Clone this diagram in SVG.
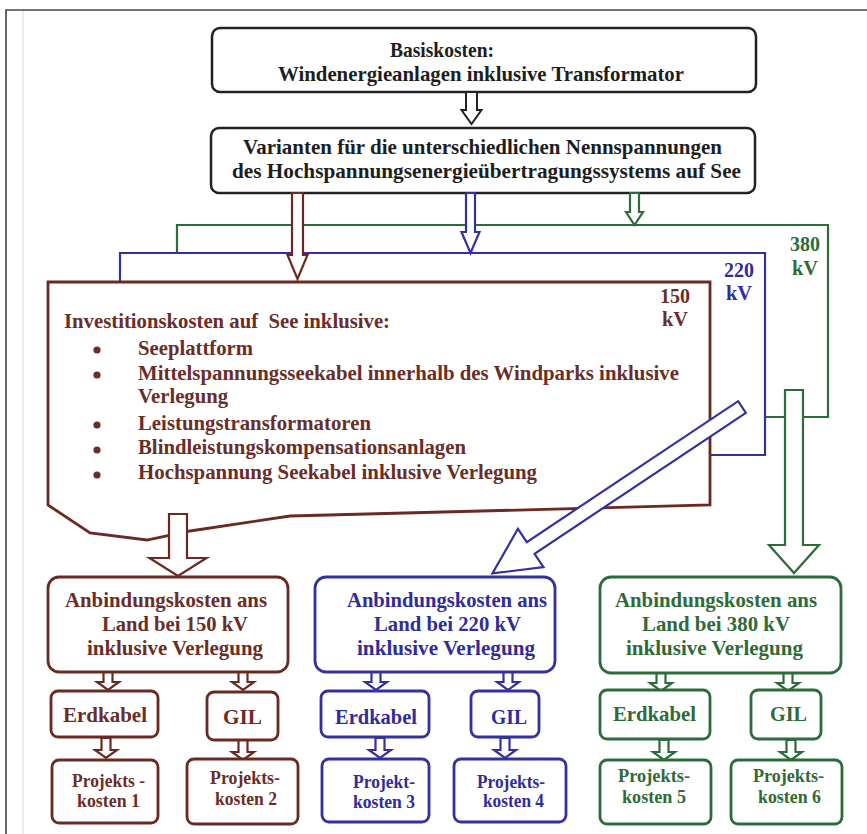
<svg xmlns="http://www.w3.org/2000/svg" xmlns:xlink="http://www.w3.org/1999/xlink" width="867" height="834" viewBox="0 0 867 834">
<style>
text{font-family:"Liberation Serif","Times New Roman",serif;font-weight:bold;}
.k{fill:#1e1e1e;font-size:21.5px;}
.br{fill:#6b2d27;font-size:21.5px;}
.bl{fill:#302c9c;font-size:21.5px;}
.gr{fill:#2f6b38;font-size:21.5px;}
.sm{font-size:18.5px;}
.bk{fill:#fff;stroke:#222;stroke-width:2.5;}
.bb{fill:#fff;stroke:#6a2a22;stroke-width:2.8;}
.bu{fill:#fff;stroke:#3430a0;stroke-width:2.8;}
.bg{fill:#fff;stroke:#2c6b3a;stroke-width:2.8;}
.ln{fill:none;stroke-width:2.2;}
.ab{fill:#fff;stroke:#222;stroke-width:2;}
.arb{fill:#fff;stroke:#6a2a22;stroke-width:2.2;}
.aru{fill:#fff;stroke:#3430a0;stroke-width:2.2;}
.arg{fill:#fff;stroke:#2c6b3a;stroke-width:2.2;}
</style>
<defs>
<path id="sa1" d="M-4.5,0 V10 H-11 L0,18 L11,10 H4.5 V0 Z"/>
<path id="sa2" d="M-4.5,0 V12 H-11 L0,20 L11,12 H4.5 V0 Z"/>
</defs>
<rect width="867" height="834" fill="#fff"/>
<g id="frame">
<line x1="23" y1="10" x2="23" y2="834" stroke="#e4e4e4" stroke-width="1.5"/>
<path d="M6,834 V10 H867" fill="none" stroke="#444" stroke-width="1.6"/>
</g>

<g id="connectors">
<polyline class="ln" stroke="#2c6b3a" points="177,253 177,225 828,225 828,417 765,417"/>
<polyline class="ln" stroke="#3430a0" points="120,281 120,253 765,253 765,455 710,455"/>
</g>

<g id="basis">
<rect class="bk" x="212" y="28" width="544" height="64" rx="8"/>
<text class="k" x="390" y="57" textLength="104" lengthAdjust="spacingAndGlyphs">Basiskosten:</text>
<text class="k" x="278" y="81" textLength="406" lengthAdjust="spacingAndGlyphs">Windenergieanlagen inklusive Transformator</text>
</g>
<g id="varianten">
<rect class="bk" x="211" y="128" width="544" height="65" rx="8"/>
<text class="k" x="243" y="154" textLength="479" lengthAdjust="spacingAndGlyphs">Varianten für die unterschiedlichen Nennspannungen</text>
<text class="k" x="232" y="178" textLength="509" lengthAdjust="spacingAndGlyphs">des Hochspannungsenergieübertragungssystems auf See</text>
</g>

<g id="see150">
<polygon class="bb" stroke-width="3" points="48,282 710,282 710,505 290,516 190,531 147,540 90,533 48,505"/>
<text class="br" x="64" y="328" xml:space="preserve" textLength="326" lengthAdjust="spacingAndGlyphs">Investitionskosten auf  See inklusive:</text>
<g fill="#6b2d27">
<circle cx="97" cy="350" r="3.6"/>
<circle cx="97" cy="375" r="3.6"/>
<circle cx="97" cy="425" r="3.6"/>
<circle cx="97" cy="450" r="3.6"/>
<circle cx="97" cy="475" r="3.6"/>
</g>
<text class="br" x="138" y="355" textLength="115" lengthAdjust="spacingAndGlyphs">Seeplattform</text>
<text class="br" x="138" y="380" textLength="541" lengthAdjust="spacingAndGlyphs">Mittelspannungsseekabel innerhalb des Windparks inklusive</text>
<text class="br" x="138" y="403" textLength="90" lengthAdjust="spacingAndGlyphs">Verlegung</text>
<text class="br" x="138" y="430" textLength="233" lengthAdjust="spacingAndGlyphs">Leistungstransformatoren</text>
<text class="br" x="138" y="454" textLength="328" lengthAdjust="spacingAndGlyphs">Blindleistungskompensationsanlagen</text>
<text class="br" x="138" y="479" textLength="399" lengthAdjust="spacingAndGlyphs">Hochspannung Seekabel inklusive Verlegung</text>
<text class="br" x="675" y="303" text-anchor="middle" textLength="30" lengthAdjust="spacingAndGlyphs">150</text>
<text class="br" x="675" y="326" text-anchor="middle" textLength="26" lengthAdjust="spacingAndGlyphs">kV</text>
</g>
<g id="label220">
<text class="bl" x="739" y="277" text-anchor="middle" textLength="30" lengthAdjust="spacingAndGlyphs">220</text>
<text class="bl" x="739" y="300" text-anchor="middle" textLength="26" lengthAdjust="spacingAndGlyphs">kV</text>
</g>
<g id="label380">
<text class="gr" x="805" y="251" text-anchor="middle" textLength="30" lengthAdjust="spacingAndGlyphs">380</text>
<text class="gr" x="805" y="275" text-anchor="middle" textLength="26" lengthAdjust="spacingAndGlyphs">kV</text>
</g>

<g id="arrows">
<path class="ab" d="M466,92 V110 H461.5 L471.5,124 L481.5,110 H477 V92 Z"/>
<path class="arb" d="M292,193 V255 H287.5 L297.5,279 L307.5,255 H303 V193 Z"/>
<path class="aru" d="M466,193 V232 H461.5 L470.5,253 L479.5,232 H475 V193 Z"/>
<path class="arg" d="M630,193 V212 H626 L634.5,225 L643,212 H639 V193 Z"/>
<path class="arb" stroke-width="2.6" d="M169,514 V558 H149.5 L178,576 L206.5,558 H187 V514 Z"/>
<path class="arg" stroke-width="2.6" d="M785,390 V545 H769 L794,573 L819,545 H803 V390 Z"/>
<path class="aru" stroke-width="2.6" transform="translate(742,407) rotate(146.3)" d="M0,-7 L254,-7 L254,-23 L300,0 L254,23 L254,7 L0,7 Z"/>
<g class="arb" stroke-width="2">
<use xlink:href="#sa1" x="108" y="672"/>
<use xlink:href="#sa1" x="243" y="672"/>
<use xlink:href="#sa2" x="106" y="738"/>
<use xlink:href="#sa2" x="243" y="740"/>
</g>
<g class="aru" stroke-width="2">
<use xlink:href="#sa1" x="376" y="672"/>
<use xlink:href="#sa1" x="508" y="672"/>
<use xlink:href="#sa2" x="380" y="738"/>
<use xlink:href="#sa2" x="505" y="738"/>
</g>
<g class="arg" stroke-width="2">
<use xlink:href="#sa1" x="661" y="673"/>
<use xlink:href="#sa1" x="788" y="673"/>
<use xlink:href="#sa2" x="664" y="740"/>
<use xlink:href="#sa2" x="791" y="740"/>
</g>
</g>

<g id="land150">
<rect class="bb" x="48" y="577" width="240" height="95" rx="11"/>
<text class="br" x="65" y="607" textLength="202" lengthAdjust="spacingAndGlyphs">Anbindungskosten ans</text>
<text class="br" x="102" y="631" textLength="146" lengthAdjust="spacingAndGlyphs">Land bei 150 kV</text>
<text class="br" x="87" y="655" textLength="176" lengthAdjust="spacingAndGlyphs">inklusive Verlegung</text>
</g>
<g id="erd1"><rect class="bb" x="51" y="691" width="107" height="46" rx="7"/><text class="br" x="63" y="722" textLength="84" lengthAdjust="spacingAndGlyphs">Erdkabel</text></g>
<g id="gil1"><rect class="bb" x="207" y="692" width="71" height="48" rx="7"/><text class="br" x="223" y="724" textLength="39" lengthAdjust="spacingAndGlyphs">GIL</text></g>
<g id="pk1"><rect class="bb" x="52" y="760" width="106" height="63" rx="7"/><text class="br sm" x="72" y="787" textLength="73" lengthAdjust="spacingAndGlyphs">Projekts -</text><text class="br sm" x="77" y="807" textLength="63" lengthAdjust="spacingAndGlyphs">kosten 1</text></g>
<g id="pk2"><rect class="bb" x="187" y="759" width="111" height="65" rx="7"/><text class="br sm" x="210" y="784" textLength="70" lengthAdjust="spacingAndGlyphs">Projekts-</text><text class="br sm" x="215" y="805" textLength="62" lengthAdjust="spacingAndGlyphs">kosten 2</text></g>

<g id="land220">
<rect class="bu" x="315" y="577" width="240" height="95" rx="11"/>
<text class="bl" x="347" y="607" textLength="200" lengthAdjust="spacingAndGlyphs">Anbindungskosten ans</text>
<text class="bl" x="374" y="631" textLength="147" lengthAdjust="spacingAndGlyphs">Land bei 220 kV</text>
<text class="bl" x="357" y="655" textLength="178" lengthAdjust="spacingAndGlyphs">inklusive Verlegung</text>
</g>
<g id="erd3"><rect class="bu" x="321" y="691" width="108" height="46" rx="7"/><text class="bl" x="335" y="724" textLength="82" lengthAdjust="spacingAndGlyphs">Erdkabel</text></g>
<g id="gil3"><rect class="bu" x="471" y="691" width="68" height="46" rx="7"/><text class="bl" x="491" y="724" textLength="36" lengthAdjust="spacingAndGlyphs">GIL</text></g>
<g id="pk3"><rect class="bu" x="322" y="759" width="107" height="63" rx="7"/><text class="bl sm" x="353" y="788" textLength="62" lengthAdjust="spacingAndGlyphs">Projekt-</text><text class="bl sm" x="353" y="808" textLength="62" lengthAdjust="spacingAndGlyphs">kosten 3</text></g>
<g id="pk4"><rect class="bu" x="454" y="759" width="112" height="63" rx="7"/><text class="bl sm" x="477" y="788" textLength="68" lengthAdjust="spacingAndGlyphs">Projekts-</text><text class="bl sm" x="483" y="807" textLength="61" lengthAdjust="spacingAndGlyphs">kosten 4</text></g>

<g id="land380">
<rect class="bg" x="600" y="577" width="241" height="96" rx="11"/>
<text class="gr" x="615" y="607" textLength="202" lengthAdjust="spacingAndGlyphs">Anbindungskosten ans</text>
<text class="gr" x="642" y="631" textLength="148" lengthAdjust="spacingAndGlyphs">Land bei 380 kV</text>
<text class="gr" x="626" y="655" textLength="177" lengthAdjust="spacingAndGlyphs">inklusive Verlegung</text>
</g>
<g id="erd5"><rect class="bg" x="600" y="690" width="110" height="49" rx="7"/><text class="gr" x="613" y="721" textLength="83" lengthAdjust="spacingAndGlyphs">Erdkabel</text></g>
<g id="gil5"><rect class="bg" x="751" y="690" width="70" height="49" rx="7"/><text class="gr" x="770" y="721" textLength="37" lengthAdjust="spacingAndGlyphs">GIL</text></g>
<g id="pk5"><rect class="bg" x="600" y="760" width="111" height="64" rx="7"/><text class="gr sm" x="618" y="782" textLength="72" lengthAdjust="spacingAndGlyphs">Projekts-</text><text class="gr sm" x="622" y="803" textLength="64" lengthAdjust="spacingAndGlyphs">kosten 5</text></g>
<g id="pk6"><rect class="bg" x="731" y="760" width="111" height="64" rx="7"/><text class="gr sm" x="753" y="782" textLength="71" lengthAdjust="spacingAndGlyphs">Projekts-</text><text class="gr sm" x="758" y="803" textLength="63" lengthAdjust="spacingAndGlyphs">kosten 6</text></g>
</svg>
